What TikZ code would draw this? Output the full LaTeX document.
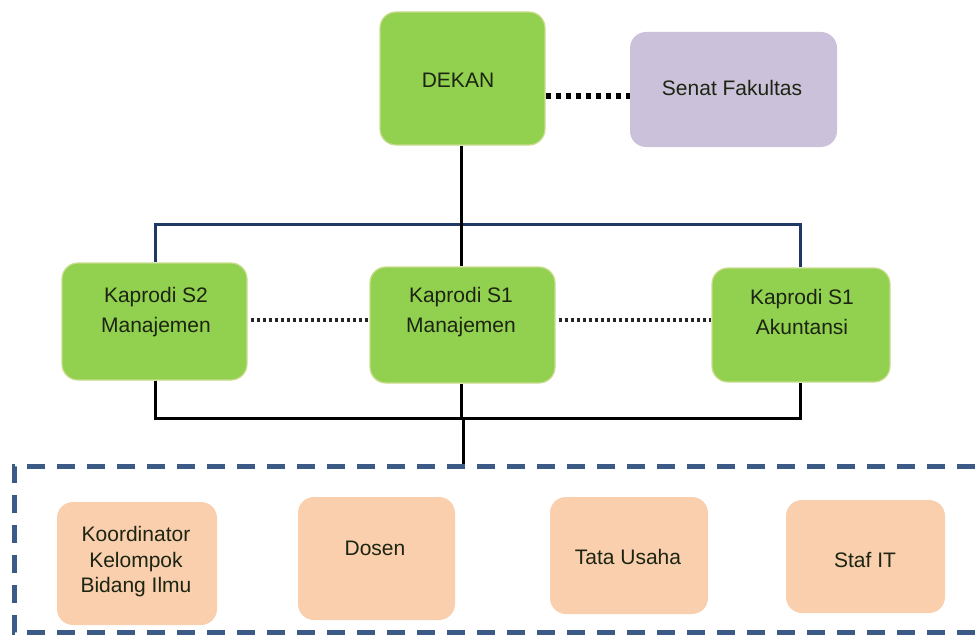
\documentclass[tikz,border=0pt]{standalone}
\usepackage{fontspec}
\setmainfont{Liberation Sans}
\definecolor{gfill}{HTML}{92D050}
\definecolor{gedge}{HTML}{C9DC8E}
\definecolor{pfill}{HTML}{CCC1DA}
\definecolor{ofill}{HTML}{FACFAD}
\definecolor{navy}{HTML}{1F3864}
\definecolor{dashblue}{HTML}{3B5B86}
\definecolor{txtc}{HTML}{1C2412}
\begin{document}
\begin{tikzpicture}[x=1pt,y=-1pt,
  gbox/.style={rectangle,rounded corners=16pt,fill=gfill,draw=gedge,line width=1.2pt,inner sep=0pt},
  pbox/.style={rectangle,rounded corners=16pt,fill=pfill,inner sep=0pt},
  obox/.style={rectangle,rounded corners=16pt,fill=ofill,inner sep=0pt},
  txt/.style={align=center,text=txtc,font=\fontsize{21}{30}\selectfont,inner sep=0pt},
  txts/.style={align=center,text=txtc,font=\fontsize{21}{25.5}\selectfont,inner sep=0pt},
  blk/.style={line width=3pt,black},
  bluel/.style={line width=3pt,navy},
  bigdots/.style={line width=5pt,dash pattern=on 5pt off 5pt,black},
  smalldots/.style={line width=3.5pt,dash pattern=on 3pt off 3pt,black!85},
  frame/.style={line width=5pt,dashblue,dash pattern=on 18pt off 12pt}
]
\useasboundingbox (0,0) rectangle (975,642);

% boxes
\node[gbox,minimum width=165pt,minimum height=133pt] (dekan) at (462.5,78.5) {};
\node[txt] (dekant) at (458,80) {DEKAN};
\node[pbox,minimum width=207pt,minimum height=115pt] (senat) at (733.5,89.5) {};
\node[txt] (senatt) at (732,88) {Senat Fakultas};

\node[gbox,minimum width=185pt,minimum height=117pt] (ks2) at (154.5,321.5) {};
\node[txt] (ks2t) at (156,312) {Kaprodi S2\\Manajemen};
\node[gbox,minimum width=185pt,minimum height=116pt] (ks1m) at (462.5,325) {};
\node[txt] (ks1mt) at (461,312) {Kaprodi S1\\Manajemen};
\node[gbox,minimum width=178pt,minimum height=114pt] (ks1a) at (801,325) {};
\node[txt] (ks1at) at (802,312) {Kaprodi S1\\Akuntansi};

\node[obox,minimum width=160pt,minimum height=123pt] (koord) at (137,563.5) {};
\node[txts] (koordt) at (136,562) {Koordinator\\Kelompok\\Bidang Ilmu};
\node[obox,minimum width=157pt,minimum height=123pt] (dosen) at (376.5,558.5) {};
\node[txt] (dosent) at (375,548) {Dosen};
\node[obox,minimum width=158pt,minimum height=117pt] (tu) at (629,555.5) {};
\node[txt] (tut) at (628,557) {Tata Usaha};
\node[obox,minimum width=159pt,minimum height=113pt] (staf) at (865.5,556.5) {};
\node[txt] (staft) at (865,560) {Staf IT};

% coordinates
\coordinate (bl) at (155,224);
\coordinate (br) at (800,224);
\coordinate (kl) at (155,418);
\coordinate (kr) at (800,418);
\coordinate (kc) at (461,418);
\coordinate (kc2) at (463,418);
\coordinate (fc) at (463,466);
\coordinate (ftr) at (975,466);
\coordinate (ftl) at (14,466);
\coordinate (fbl) at (14,632);
\coordinate (fbr) at (975,632);

% dotted links
\draw[bigdots] (dekan.east |- 0,96) -- (senat.west |- 0,96);
\draw[smalldots] (ks2.east |- 0,320) ++(3,0) -- (ks1m.west |- 0,320);
\draw[smalldots] (ks1m.east |- 0,320) ++(3,0) -- (ks1a.west |- 0,320);

% blue bracket
\draw[bluel] (ks2.north -| bl) -- (bl) -- (br) -- (ks1a.north -| br);
% main vertical
\draw[blk] (dekan.south -| 461,0) -- (ks1m.north -| 461,0);

% bottom bracket
\draw[blk] (ks2.south -| kl) -- (kl) -- (kr) -- (ks1a.south -| kr);
\draw[blk] (ks1m.south -| kc) -- (kc);
\draw[blk] (kc2) -- (fc);

% dashed frame
\draw[frame] (ftr) -- (ftl) -- (fbl) -- (fbr);
\end{tikzpicture}
\end{document}
